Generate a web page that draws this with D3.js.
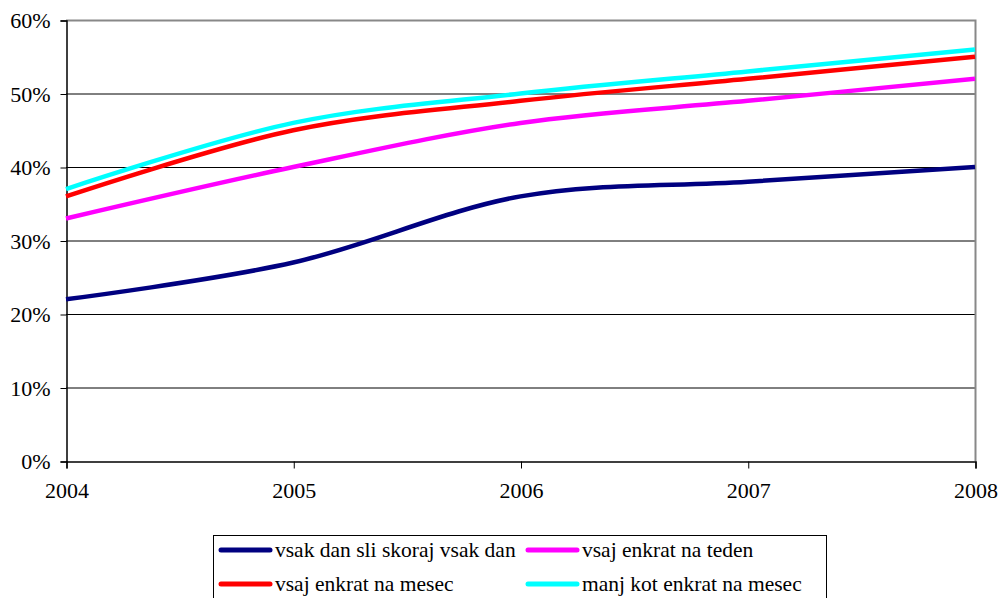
<!DOCTYPE html>
<html>
<head>
<meta charset="utf-8">
<script src="https://cdn.jsdelivr.net/npm/d3@7"></script>
</head>
<body style="margin:0; background:#fff">
<svg id="chart" width="998" height="598"></svg>
<script>
// data
const years = [2004, 2005, 2006, 2007, 2008];
const seriesNames = [
  "vsak dan sli skoraj vsak dan",
  "vsaj enkrat na teden",
  "vsaj enkrat na mesec",
  "manj kot enkrat na mesec"
];
const seriesColors = ["#000080", "#ff00ff", "#ff0000", "#00ffff"];
const dailyVals = [22, 27, 36, 38, 40];
const weeklyVals = [33, 40, 46, 49, 52];
const monthlyVals = [36, 45, 49, 52, 55];
const lessVals = [37, 46, 50, 53, 56];
const yTicks = [0, 10, 20, 30, 40, 50, 60];

const allVals = [dailyVals, weeklyVals, monthlyVals, lessVals];
const FONT = "Liberation Serif";

const svg = d3.select("#chart");
const margin = { top: 20, left: 66, right: 23, bottom: 137 };
const width = 998, height = 598;
const innerW = width - margin.left - margin.right;
const innerH = height - margin.top - margin.bottom;

const x = d3.scaleLinear().domain([2004, 2008]).range([margin.left, margin.left + innerW]);
const y = d3.scaleLinear().domain([0, 60]).range([margin.top + innerH, margin.top]);

// gridlines
svg.append("g")
  .selectAll("line")
  .data(yTicks.filter(d => d > 0 && d < 60))
  .join("line")
  .attr("x1", x(2004)).attr("x2", x(2008))
  .attr("y1", d => y(d) + 0.5).attr("y2", d => y(d) + 0.5)
  .attr("stroke", "#000").attr("stroke-width", 1);

// plot border top/right in gray
svg.append("path")
  .attr("d", `M${x(2004)},${y(60) + 0.5}H${x(2008) + 0.5}V${y(0)}`)
  .attr("fill", "none")
  .attr("stroke", "#888")
  .attr("stroke-width", 2);

// y axis
const yAxis = svg.append("g")
  .attr("transform", `translate(${x(2004) + 0.5},0.5)`)
  .call(d3.axisLeft(y).tickValues(yTicks).tickSize(6).tickFormat(d => d + "%"));
yAxis.select(".domain").attr("stroke", "#000").attr("stroke-width", 1.5);
yAxis.selectAll(".tick line").attr("stroke", "#000");
yAxis.selectAll(".tick text")
  .attr("x", -16)
  .attr("fill", "#000");

// x axis
const xAxis = svg.append("g")
  .attr("transform", `translate(0.5,${y(0) + 0.5})`)
  .call(d3.axisBottom(x).tickValues(years).tickSize(7).tickFormat(d3.format("d")));
xAxis.select(".domain").attr("stroke", "#000").attr("stroke-width", 1.5);
xAxis.selectAll(".tick line").attr("stroke", "#000");
xAxis.selectAll(".tick text")
  .attr("y", 21)
  .attr("fill", "#000");

svg.selectAll(".tick text")
  .attr("font-family", FONT)
  .attr("font-size", 22);
svg.selectAll("g").attr("font-family", FONT);

// lines
const line = d3.line()
  .x((d, i) => x(years[i]))
  .y(d => y(d))
  .curve(d3.curveCatmullRom.alpha(0));

svg.append("g")
  .selectAll("path")
  .data(allVals)
  .join("path")
  .attr("d", d => line(d))
  .attr("fill", "none")
  .attr("stroke", (d, i) => seriesColors[i])
  .attr("stroke-width", 4.5)
  .attr("stroke-linejoin", "round");

// legend
const legend = svg.append("g");
legend.append("rect")
  .attr("x", 213.5).attr("y", 535.5)
  .attr("width", 613).attr("height", 80)
  .attr("fill", "#fff")
  .attr("stroke", "#000")
  .attr("stroke-width", 1);

const legPos = [
  { lx: 221, ly: 550 },
  { lx: 528, ly: 550 },
  { lx: 221, ly: 584 },
  { lx: 528, ly: 584 }
];

const items = legend.selectAll("g.item")
  .data(seriesNames)
  .join("g")
  .attr("class", "item")
  .attr("transform", (d, i) => `translate(${legPos[i].lx},${legPos[i].ly})`);

items.append("line")
  .attr("x1", 0).attr("x2", 49)
  .attr("y1", 0).attr("y2", 0)
  .attr("stroke", (d, i) => seriesColors[i])
  .attr("stroke-width", 5)
  .attr("stroke-linecap", "round");

items.append("text")
  .attr("x", 54)
  .attr("y", 7)
  .attr("font-family", FONT)
  .attr("font-size", 21.5)
  .attr("fill", "#000")
  .text(d => d);
</script>
</body>
</html>
